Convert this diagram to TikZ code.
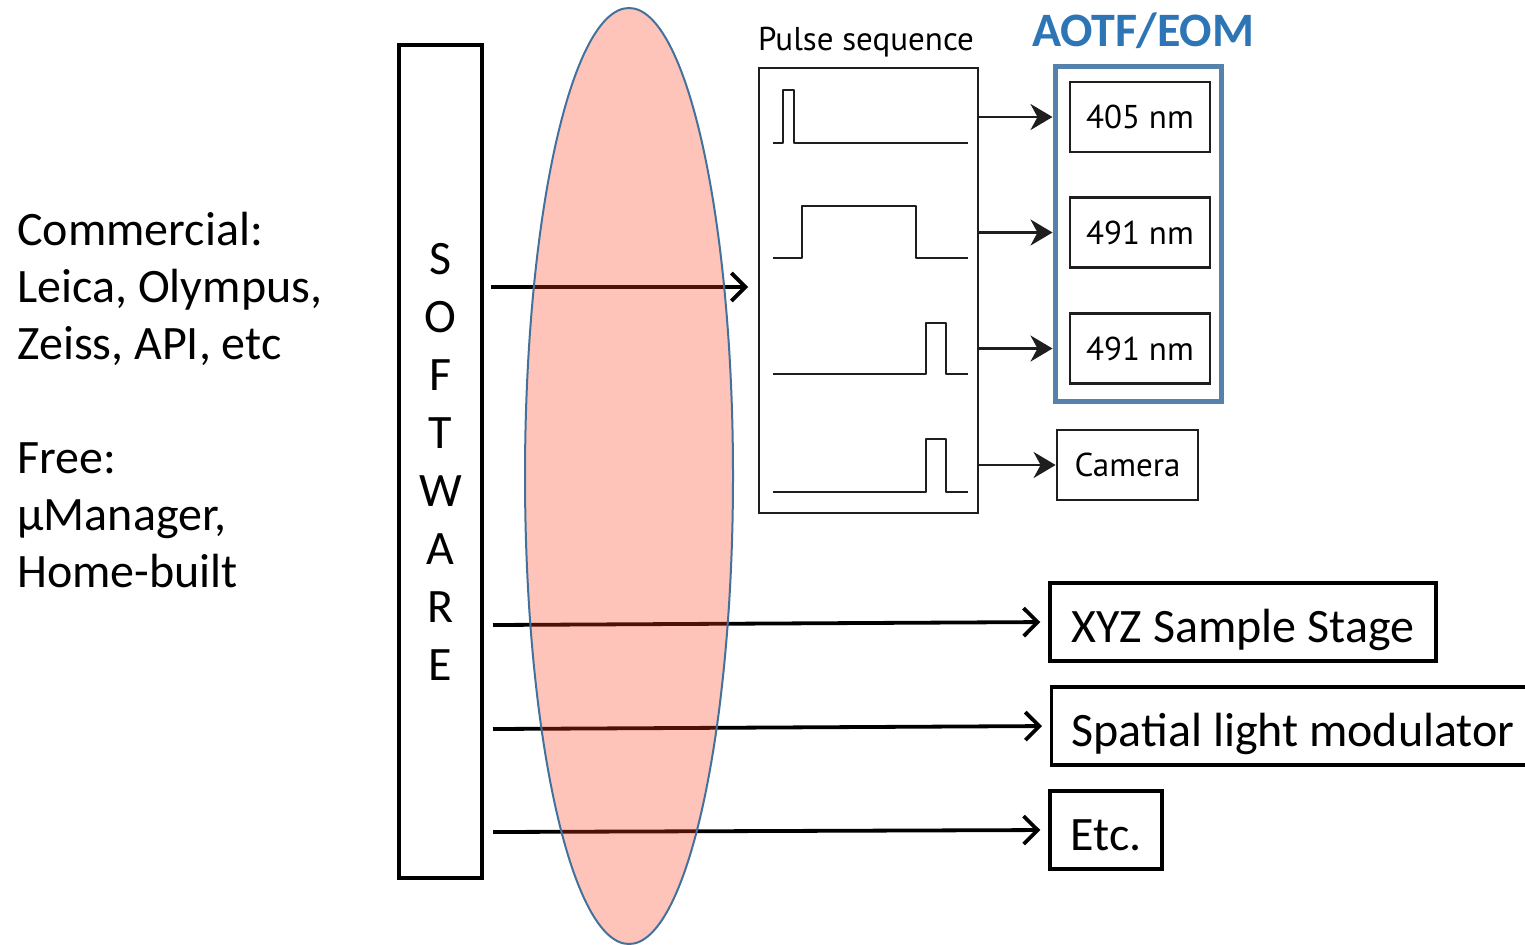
\documentclass[tikz,border=0pt]{standalone}
\usepackage{fontspec}
\setmainfont{Carlito}
\newfontfamily\pulsefont{PT Sans}
\usetikzlibrary{arrows.meta,shapes.geometric}
\definecolor{lenspink}{RGB}{255,58,22}
\definecolor{lensedge}{RGB}{65,113,156}
\definecolor{aotfblue}{RGB}{84,130,172}
\definecolor{titleblue}{RGB}{46,117,182}
\definecolor{wavegray}{RGB}{30,30,30}
\begin{document}
\begin{tikzpicture}[x=0.5pt,y=-0.5pt,
  bigfont/.style={font=\fontsize{24}{28.5}\selectfont},
  bbox/.style={draw, line width=1.7pt, inner sep=0pt, bigfont},
  dbox/.style={bbox, minimum height=39pt, text height=22pt, text depth=2pt},
  pbox/.style={draw=wavegray, line width=1.4pt, inner sep=0pt,
    font=\pulsefont\fontsize{16.5}{19}\selectfont, minimum width=70pt, minimum height=35pt},
  longarr/.style={line width=1.9pt, -{Straight Barb[length=7pt,width=14pt,line width=1.9pt]}},
  pulsearr/.style={draw=wavegray, line width=1.4pt, -{Stealth[length=11pt,width=13pt,inset=3.5pt]}},
  wave/.style={draw=wavegray, line width=1.4pt, line join=round}
]
\useasboundingbox (0,0) rectangle (1525,944);

% left text
\node[anchor=north west, align=left, inner sep=0pt, bigfont] (ltext) at (17,212)
  {Commercial:\\Leica, Olympus,\\Zeiss, API, etc\\[28.5pt]Free:\\µManager,\\Home-built};

% software box
\node[bbox, minimum width=41.5pt, minimum height=416.5pt, align=center,
  font=\fontsize{24}{29}\selectfont] (soft) at (440.5,461.5)
  {S\\O\\F\\T\\W\\A\\R\\E};

% pulse sequence box
\node[draw=wavegray, line width=1.4pt, minimum width=109.5pt, minimum height=222.5pt, inner sep=0pt] (pulse) at (868.5,290.5) {};
\node[font=\pulsefont\fontsize{16.5}{19}\selectfont, inner sep=0pt] (ptitle) at (866,42) {Pulse sequence};

% waveforms
\draw[wave] (773,143) -- (783,143) -- (783,90) -- (794,90) -- (794,143) -- (968,143);
\draw[wave] (773,258) -- (802,258) -- (802,206) -- (916,206) -- (916,258) -- (968,258);
\draw[wave] (773,374) -- (926,374) -- (926,323) -- (946,323) -- (946,374) -- (968,374);
\draw[wave] (773,492) -- (926,492) -- (926,439) -- (946,439) -- (946,492) -- (968,492);

% AOTF box
\node[draw=aotfblue, line width=2.5pt, minimum width=83pt, minimum height=167.5pt, inner sep=0pt] (aotf) at (1138,233.5) {};
\node[font=\bfseries\fontsize{24}{28}\selectfont, text=titleblue, inner sep=0pt] (aotftitle) at (1143,31) {AOTF/EOM};

\node[pbox] (w405) at (1140,117) {405 nm};
\node[pbox] (w491a) at (1140,232.5) {491 nm};
\node[pbox] (w491b) at (1140,348.5) {491 nm};
\node[pbox, minimum width=70.5pt] (cam) at (1127.5,465) {Camera};

\draw[pulsearr] (pulse.east |- w405.west) -- (aotf.west |- w405.west);
\draw[pulsearr] (pulse.east |- w491a.west) -- (aotf.west |- w491a.west);
\draw[pulsearr] (pulse.east |- w491b.west) -- (aotf.west |- w491b.west);
\draw[pulsearr] (pulse.east |- cam.west) -- (cam.west);

% right boxes
\node[dbox, minimum width=193pt] (xyz) at (1243,622) {XYZ Sample Stage};
\node[dbox, minimum width=241pt, anchor=west, inner xsep=10pt] (slm) at (1050,726)
  {\makebox[221pt][l]{Spatial light modulator}};
\node[dbox, minimum width=56pt] (etc) at (1106,830) {Etc.};

% connectors
\coordinate (s0) at (491,287);
\coordinate (p0) at (748,287);
\coordinate (s1) at (493,625);
\coordinate (s2) at (493,729);
\coordinate (s3) at (493,832);
\draw[longarr] (s0) -- (p0);
\draw[longarr, shorten >=4pt] (s1) -- (xyz.west);
\draw[longarr, shorten >=4pt] (s2) -- (slm.west);
\draw[longarr, shorten >=4pt] (s3) -- (etc.west);

% lens ellipse (drawn over the connectors)
\node[ellipse, draw=lensedge, line width=1pt, fill=lenspink, fill opacity=0.3, draw opacity=1,
  minimum width=104pt, minimum height=468pt, inner sep=0pt] (lens) at (629,476) {};
\end{tikzpicture}
\end{document}
